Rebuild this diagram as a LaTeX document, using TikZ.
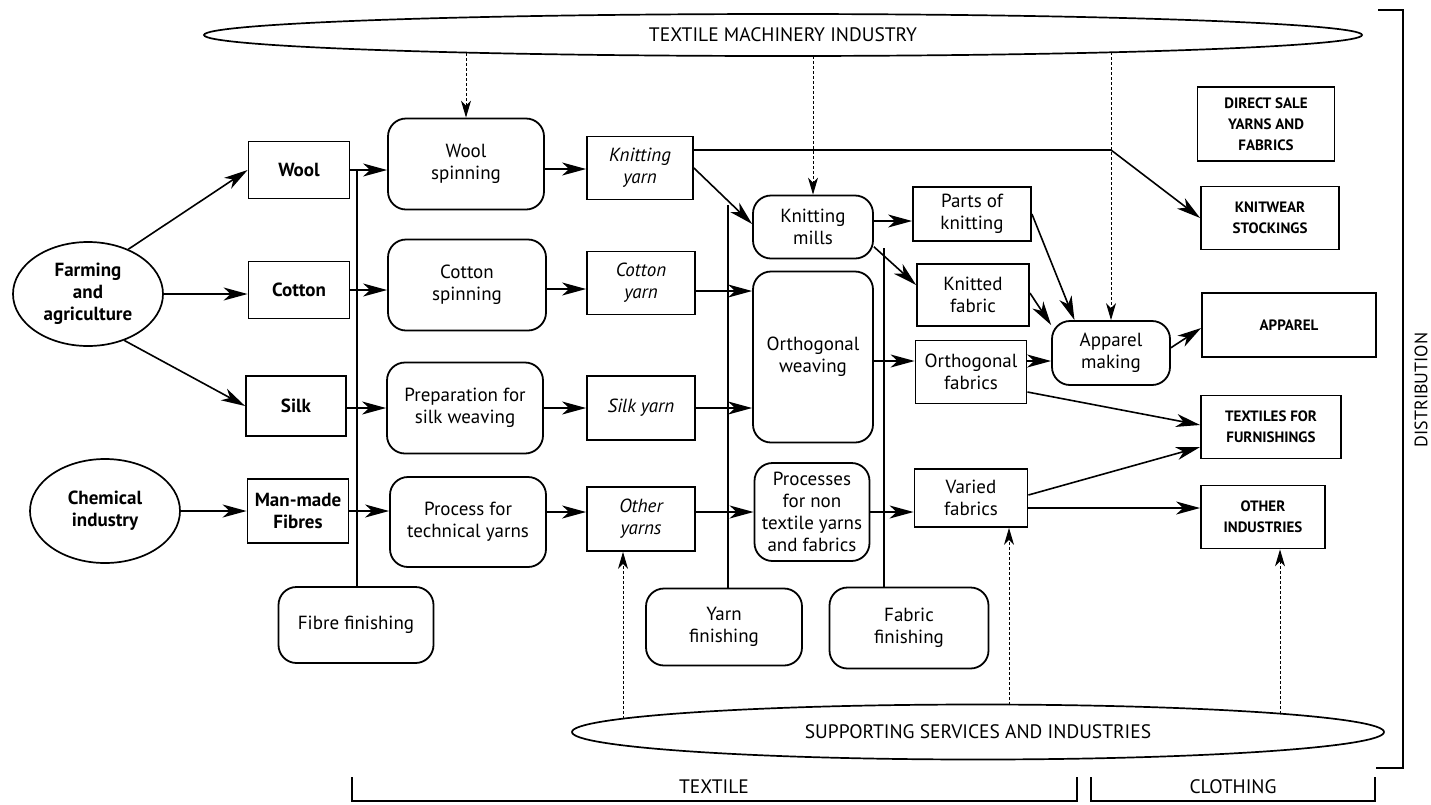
\documentclass[tikz,border=0pt]{standalone}
\usepackage{fontspec}
\setmainfont{PT Sans}
\usetikzlibrary{arrows.meta,shapes.geometric}

\newcommand{\bodyfont}{\fontsize{19}{22}\selectfont}
\newcommand{\capsfont}{\fontsize{15}{21}\selectfont\bfseries}
\newcommand{\bandfont}{\fontsize{19.5}{22}\selectfont}

\begin{document}
\begin{tikzpicture}[x=1pt,y=-1pt,
  box/.style={draw, line width=1.8pt, align=center, inner sep=0pt, font=\bodyfont},
  sq/.style={box},
  rnd/.style={box, rounded corners=18pt},
  bold/.style={font=\bfseries\bodyfont},
  ital/.style={font=\itshape\bodyfont},
  caps/.style={box, font=\capsfont},
  oval/.style={draw, ellipse, line width=1.7pt, inner sep=0pt, align=center},
  sz/.style 2 args={minimum width=#1, minimum height=#2},
  ln/.style={line width=1.6pt},
  arr/.style={line width=1.6pt, -{Stealth[length=24pt,width=13pt,inset=7pt]}},
  dsh/.style={line width=1pt, dash pattern=on 3pt off 2pt, -{Stealth[length=17pt,width=10pt,inset=5pt]}},
  brk/.style={line width=2pt},
  band/.style={font=\bandfont}
]
\useasboundingbox (0,0) rectangle (1431,804);
\fill[white] (0,0) rectangle (1431,804);

% bands of industry
\node[oval, band, sz={1158}{42}] (mach) at (783,35) {TEXTILE MACHINERY INDUSTRY};
\node[oval, band, sz={812}{55}] (sup) at (978,732) {SUPPORTING SERVICES AND INDUSTRIES};

% raw material sources
\node[oval, bold, sz={150}{104}] (farm) at (88,294) {Farming\\and\\agriculture};
\node[oval, bold, sz={150}{104}] (chem) at (105,511) {Chemical\\industry};

% fibres
\node[sq, bold, sz={101}{57}] (wool) at (299,170) {Wool};
\node[sq, bold, sz={101}{57}] (cot) at (299,290) {Cotton};
\node[sq, bold, sz={100}{60}] (silk) at (296,406) {Silk};
\node[sq, bold, sz={101}{64}] (mm) at (298,511) {Man-made\\Fibres};

% spinning stage
\node[rnd, sz={156}{91}] (ws) at (466,164) {Wool\\spinning};
\node[rnd, sz={158}{91}] (cs) at (467,285) {Cotton\\spinning};
\node[rnd, sz={156}{91}] (prep) at (465,408) {Preparation for\\silk weaving};
\node[rnd, sz={156}{90}] (tech) at (468,522) {Process for\\technical yarns};
\node[rnd, sz={155}{76}] (fib) at (356,625) {Fibre finishing};

% yarns
\node[sq, ital, sz={106}{63}] (ky) at (640,168) {Knitting\\yarn};
\node[sq, ital, sz={108}{63}] (cy) at (641,283) {Cotton\\yarn};
\node[sq, ital, sz={108}{64}] (sy) at (641,408) {Silk yarn};
\node[sq, ital, sz={108}{64}] (oy) at (641,519) {Other\\yarns};

% fabric making
\node[rnd, sz={120}{63}] (km) at (813,227) {Knitting\\mills};
\node[rnd, sz={120}{171}] (ow) at (813,357) {Orthogonal\\weaving};
\node[rnd, sz={115}{98}] (proc) at (812,512) {Processes\\for non\\textile yarns\\and fabrics};
\node[rnd, sz={156}{77}] (yf) at (724,627) {Yarn\\finishing};
\node[rnd, sz={159}{81}] (fab) at (909,628) {Fabric\\finishing};

% fabrics
\node[sq, sz={118}{54}] (pk) at (972,214) {Parts of\\knitting};
\node[sq, sz={112}{62}] (kf) at (973,295) {Knitted\\fabric};
\node[sq, sz={111}{63}] (of) at (971,372) {Orthogonal\\fabrics};
\node[sq, sz={113}{58}] (vf) at (971,498) {Varied\\fabrics};
\node[rnd, sz={118}{64}] (am) at (1111,353) {Apparel\\making};

% end markets
\node[caps, sz={137}{74}] (direct) at (1266,124) {DIRECT SALE\\YARNS AND\\FABRICS};
\node[caps, sz={138}{63}] (knit) at (1270,218) {KNITWEAR\\STOCKINGS};
\node[caps, sz={174}{64}] (app) at (1289,325) {APPAREL};
\node[caps, sz={140}{63}] (tff) at (1271,427) {TEXTILES FOR\\FURNISHINGS};
\node[caps, sz={124}{63}] (oi) at (1263,517) {OTHER\\INDUSTRIES};

% finishing feed lines
\coordinate (fibtop) at (357,170);
\coordinate (yarntop) at (728,205);
\coordinate (fabtop) at (884,248);
\draw[ln] (fibtop) -- (fibtop |- fib.north);
\draw[ln] (yarntop) -- (yarntop |- yf.north);
\draw[ln] (fabtop) -- (fabtop |- fab.north);

% sources to fibres
\draw[arr] (farm.48) -- (wool.west);
\draw[arr] (farm.east) -- (farm.east -| cot.west);
\draw[arr] (farm.-52) -- (silk.west);
\draw[arr] (chem.east) -- (mm.west);

% fibres to spinning
\draw[arr] (wool.east) -- (wool.east -| ws.west);
\draw[arr] (cot.east) -- (cot.east -| cs.west);
\draw[arr] ([yshift=-2pt]silk.east) -- ([yshift=-2pt]silk.east -| prep.west);
\draw[arr] (mm.east) -- (mm.east -| tech.west);

% spinning to yarns
\draw[arr] ([yshift=-5pt]ws.east) -- ([yshift=-5pt]ws.east -| ky.west);
\draw[arr] ([yshift=-4pt]cs.east) -- ([yshift=-4pt]cs.east -| cy.west);
\draw[arr] (prep.east) -- (prep.east -| sy.west);
\draw[arr] ([yshift=10pt]tech.east) -- ([yshift=10pt]tech.east -| oy.west);

% yarns to fabric making
\draw[arr] (ky.east) -- ([yshift=3pt]km.west);
\draw[arr] ([yshift=-8pt]cy.east) -- ([yshift=-8pt]cy.east -| ow.west);
\draw[arr] (sy.east) -- (sy.east -| ow.west);
\draw[arr] ([yshift=7pt]oy.east) -- ([yshift=7pt]oy.east -| proc.west);
\coordinate (kbend) at (1111,150);
\draw[arr] ([yshift=18pt]ky.east) -- (kbend) -- (knit.west);

% fabric making to fabrics
\draw[arr] ([yshift=6pt]km.east) -- ([yshift=6pt]km.east -| pk.west);
\draw[arr] (km.-18) -- (kf.170);
\draw[arr] ([yshift=-4pt]ow.east) -- ([yshift=-4pt]ow.east -| of.west);
\draw[arr] (proc.east) -- (proc.east -| vf.west);

% fabrics to apparel making and markets
\draw[arr] (pk.east) -- (am.138);
\draw[arr] ([yshift=2pt]kf.east) -- (am.155);
\draw[arr] ([yshift=11pt]of.east) -- ([yshift=11pt]of.east -| am.west);
\draw[arr] (am.5) -- ([yshift=-3pt]app.west);
\draw[arr] ([yshift=-20pt]of.east) -- ([yshift=2pt]tff.west);
\draw[arr] ([yshift=3pt]vf.east) -- ([yshift=-20pt]tff.west);
\draw[arr] ([yshift=-10pt]vf.east) -- ([yshift=-10pt]vf.east -| oi.west);

% machinery supply
\coordinate (t1) at (466,53);
\coordinate (t2) at (813,56);
\coordinate (t3) at (1111,52);
\draw[dsh] (t1) -- (ws.north);
\draw[dsh] (t2) -- (km.north);
\draw[dsh] (t3) -- (am.north);

% supporting services
\coordinate (b1) at (623,719);
\coordinate (b2) at (1009,705);
\coordinate (b3) at (1280,714);
\draw[dsh] (b1) -- (b1 |- oy.south);
\draw[dsh] (b2) -- (b2 |- vf.south);
\draw[dsh] (b3) -- (b3 |- oi.south);

% sector brackets
\draw[brk] (1378,10) -- (1403,10) -- (1403,768) -- (1376,768);
\draw[brk] (352,777) -- (352,801) -- (1077,801) -- (1077,777);
\draw[brk] (1091,777) -- (1091,801) -- (1375,801) -- (1375,777);
\node[band] (textile) at (714,787) {TEXTILE};
\node[band] (clothing) at (1233,787) {CLOTHING};
\node[band, font=\fontsize{18}{20}\selectfont, rotate=90] (distr) at (1421,390) {DISTRIBUTION};
\end{tikzpicture}
\end{document}
